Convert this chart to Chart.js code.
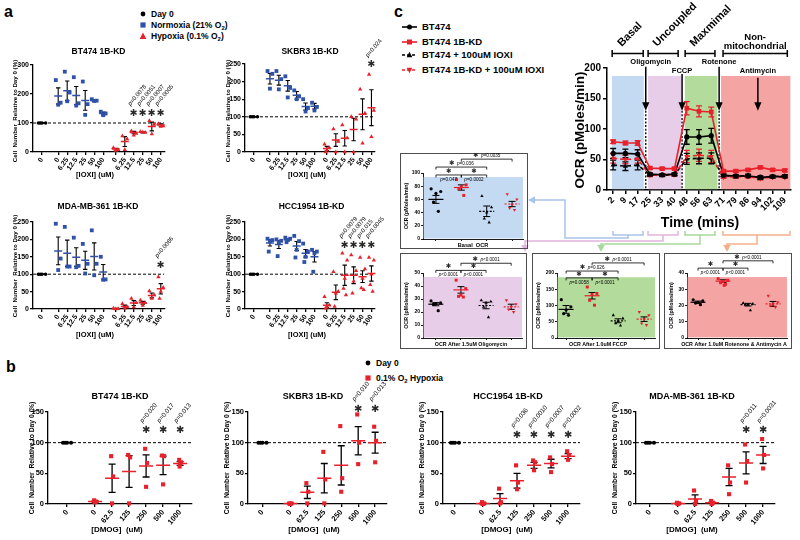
<!DOCTYPE html>
<html lang="en">
<head>
<meta charset="UTF-8">
<title>Cell number and OCR panels</title>
<script src="https://cdn.jsdelivr.net/npm/chart.js@4.4.1/dist/chart.umd.min.js"></script>
<style>
  body { margin: 0; width: 800px; height: 540px; position: relative; overflow: hidden; background: #fff;
         font-family: 'Liberation Sans', Arial, sans-serif; color: #000; }
  canvas, svg.ov, .lg, .pl, .box { position: absolute; }
  .pl { font-weight: bold; font-size: 16px; line-height: 1; }
  .lg { font-weight: bold; display: flex; align-items: center; white-space: nowrap; line-height: 10px; height: 10px; }
  .lg svg { margin-right: 3px; flex: none; }
  .lg span { white-space: pre; }
  .box { border: 1.5px solid #4d4d4d; box-sizing: border-box; }
  sub { font-size: 70%; vertical-align: -2px; line-height: 0; }
</style>
</head>
<body>
<div class="pl" style="left:4px;top:4px">a</div>
<div class="pl" style="left:6px;top:359px">b</div>
<div class="pl" style="left:394px;top:4px">c</div>

<!-- legend a -->
<div class="lg" style="left:138px;top:9px;font-size:8.5px"><svg width="10" height="10"><circle cx="5" cy="5" r="2.4" fill="#000"/></svg><span>Day 0</span></div>
<div class="lg" style="left:138px;top:20px;font-size:8.5px"><svg width="10" height="10"><rect x="2.4" y="2.4" width="5.2" height="5.2" fill="#2f52a8"/></svg><span>Normoxia (21% O<sub>2</sub>)</span></div>
<div class="lg" style="left:138px;top:31px;font-size:8.5px"><svg width="10" height="10"><polygon points="5,1.6 8.3,8 1.7,8" fill="#e8202a"/></svg><span>Hypoxia (0.1% O<sub>2</sub>)</span></div>

<!-- legend b -->
<div class="lg" style="left:363px;top:358px;font-size:8.5px"><svg width="10" height="10"><circle cx="5" cy="5" r="2.4" fill="#000"/></svg><span>Day 0</span></div>
<div class="lg" style="left:363px;top:373px;font-size:8.5px"><svg width="10" height="10"><rect x="2.4" y="2.4" width="5.2" height="5.2" fill="#e8202a"/></svg><span>0.1% O<sub>2</sub> Hypoxia</span></div>

<!-- legend c -->
<div class="lg" style="left:401px;top:22px;font-size:9.5px"><svg width="18" height="10"><line x1="1" y1="5" x2="16" y2="5" stroke="#000" stroke-width="1.6"/><circle cx="8.5" cy="5" r="2.5" fill="#000"/></svg><span>BT474</span></div>
<div class="lg" style="left:401px;top:37px;font-size:9.5px"><svg width="18" height="10"><line x1="1" y1="5" x2="16" y2="5" stroke="#e8202a" stroke-width="1.6"/><rect x="6" y="2.5" width="5" height="5" fill="#e8202a"/></svg><span>BT474 1B-KD</span></div>
<div class="lg" style="left:401px;top:50px;font-size:9.5px"><svg width="18" height="10"><line x1="1" y1="5" x2="16" y2="5" stroke="#000" stroke-width="1.6" stroke-dasharray="3 2"/><polygon points="8.5,1.8 11.3,7.2 5.7,7.2" fill="#000"/></svg><span>BT474 + 100uM IOXI</span></div>
<div class="lg" style="left:401px;top:65px;font-size:9.5px"><svg width="18" height="10"><line x1="1" y1="5" x2="16" y2="5" stroke="#e8202a" stroke-width="1.6" stroke-dasharray="3 2"/><polygon points="8.5,8.2 11.3,2.8 5.7,2.8" fill="#e8202a"/></svg><span>BT474 1B-KD + 100uM IOXI</span></div>

<!-- connectors from the OCR phases to the summary boxes -->
<svg class="ov" width="800" height="540" style="left:0;top:0">
  <g fill="none" stroke-width="1.5">
    <path stroke="#a9c3ea" d="M613 231V235H643V231M628 235V238H565V200H534"/>
    <path stroke="#e2b3de" d="M648 231V235H678V231M663 235V241H525V246"/>
    <path stroke="#a7d79b" d="M685 231V235H715V231M700 235V244H601V246"/>
    <path stroke="#f4ae8c" d="M723 231V235H790V231M757 235V244H727V246"/>
  </g>
  <polygon fill="#a9c3ea" points="528,200 535,196.3 535,203.7"/>
  <polygon fill="#e2b3de" points="525,252 521.3,245 528.7,245"/>
  <polygon fill="#a7d79b" points="601,252 597.3,245 604.7,245"/>
  <polygon fill="#f4ae8c" points="727,252 723.3,245 730.7,245"/>
</svg>

<div class="box" style="left:400px;top:153px;width:128px;height:96px"></div>
<div class="box" style="left:400px;top:253px;width:127px;height:96px"></div>
<div class="box" style="left:532px;top:253px;width:128px;height:96px"></div>
<div class="box" style="left:664px;top:253px;width:128px;height:96px"></div>

<script>
// ---------------- data : panel a (IOXI, cell number % of day 0) ----------------
const aDose = ['0', '6.25', '12.5', '25', '50', '100'];

// BT474 1B-KD
const a1Day0 = [100, 100, 100, 100];
const a1NormPts = [[248, 170, 163], [277, 205, 175], [258, 168, 160], [243, 165, 128], [182, 177, 176], [139, 133, 127]];
const a1NormMean = [193, 211, 195, 178, 178, 133];
const a1NormSem = [28, 34, 31, 34, 3, 5];
const a1HypPts = [[15, 8, 5], [55, 45, 8], [72, 64, 58], [70, 67, 68], [108, 95, 62], [97, 90, 88]];
const a1HypMean = [10, 36, 67, 68, 88, 93];
const a1HypSem = [3, 17, 4, 2, 15, 4];
const a1P = ['', '', 'p=0.0078', 'p=0.0051', 'p=0.0007', 'p=0.0005'];

// SKBR3 1B-KD
const a2Day0 = [100, 100, 100, 100];
const a2NormPts = [[230, 222, 180], [230, 207, 178], [215, 182, 155], [175, 158, 150], [150, 125, 115], [140, 128, 118]];
const a2NormMean = [208, 204, 188, 161, 129, 130];
const a2NormSem = [15, 14, 15, 11, 10, 8];
const a2HypPts = [[22, 12, 5, 0], [65, 30, 0], [77, 40, 0], [100, 93, 0], [178, 110, 25], [220, 118, 43]];
const a2HypMean = [10, 34, 39, 64, 107, 126];
const a2HypSem = [6, 18, 22, 32, 44, 51];
const a2P = ['', '', '', '', '', 'p=0.024'];

// MDA-MB-361 1B-KD
const a3Day0 = [100, 100, 100, 100];
const a3NormPts = [[245, 145, 112], [236, 122, 122], [205, 124, 120], [187, 130, 102], [226, 130, 97], [150, 85, 84]];
const a3NormMean = [167, 160, 149, 140, 151, 106];
const a3NormSem = [40, 38, 27, 26, 39, 22];
const a3HypPts = [[2, 1, 0], [15, 6, 2], [30, 18, 6], [25, 18, 10], [52, 40, 30], [92, 62, 50, 30]];
const a3HypMean = [1, 7, 17, 18, 39, 58];
const a3HypSem = [1, 4, 7, 4, 7, 15];
const a3P = ['', '', '', '', '', 'p=0.0086'];

// HCC1954 1B-KD
const a4Day0 = [100, 100, 100, 100];
const a4NormPts = [[202, 198, 195, 165], [200, 196, 190, 152], [205, 202, 198, 192], [210, 195, 170, 148], [188, 165, 150, 135], [170, 165, 160, 107]];
const a4NormMean = [190, 185, 199, 181, 160, 150];
const a4NormSem = [9, 11, 3, 13, 11, 15];
const a4HypPts = [[35, 11, 5, 2], [107, 50, 45, 7], [160, 140, 88, 59, 40], [155, 110, 80, 45], [148, 115, 88, 60, 55], [148, 140, 100, 70, 50]];
const a4HypMean = [11, 48, 97, 97, 93, 102];
const a4HypSem = [7, 21, 29, 24, 17, 22];
const a4P = ['', '', 'p=0.0079', 'p=0.0079', 'p=0.015', 'p=0.0045'];

// ---------------- data : panel b (DMOG, 0.1% O2) ----------------
const bDose = ['0', '62.5', '125', '250', '500', '1000'];
const b1Day0 = [100, 100, 100, 100];
const b1Pts = [[6, 4, 3, 3], [78, 45, 1], [80, 76, 1], [90, 67, 28], [79, 78, 32], [72, 68, 65, 61]];
const b1Mean = [4, 42, 53, 62, 63, 66];
const b1Sem = [1, 23, 26, 18, 15, 3];
const b1P = ['', '', '', 'p=0.020', 'p=0.017', 'p=0.013'];

const b2Day0 = [100, 100, 100, 100];
const b2Pts = [[1, 1, 0, 0], [34, 20, 1], [85, 40, 1], [127, 42, 20], [146, 100, 65], [126, 103, 68]];
const b2Mean = [1, 19, 42, 63, 103, 100];
const b2Sem = [0.5, 10, 24, 32, 23, 17];
const b2P = ['', '', '', '', 'p=0.010', 'p=0.013'];

const b3Day0 = [100, 100, 100, 100];
const b3Pts = [[3, 1, 0, 0], [25, 3, 1], [63, 35, 24], [71, 68, 55], [76, 65, 52], [86, 80, 72]];
const b3Mean = [1, 9, 38, 63, 66, 78];
const b3Sem = [0.7, 8, 12, 5, 7, 4];
const b3P = ['', '', 'p=0.036', 'p=0.0010', 'p=0.0007', 'p=0.0002'];

const b4Day0 = [100, 100, 100, 100];
const b4Pts = [[2, 1, 0, 0], [22, 5, 0], [5, 2, 1, 0], [63, 35, 16], [97, 70, 35], [106, 80, 58]];
const b4Mean = [1, 8, 2, 44, 67, 80];
const b4Sem = [0.5, 7, 1, 14, 18, 14];
const b4P = ['', '', '', '', 'p=0.011', 'p=0.0031'];

// ---------------- data : panel c (Seahorse OCR, pMoles/min) ----------------
const ocrTimes = [2, 9, 17, 25, 33, 40, 48, 56, 63, 71, 79, 86, 94, 102, 109];
const ocrBT     = [60, 60, 59, 26, 25, 26, 87, 87, 89, 24, 23, 23, 21, 22, 22];
const ocrBTErr  = [8, 7, 7, 2, 2, 2, 12, 12, 12, 2, 2, 2, 2, 2, 2];
const ocrKD     = [79, 77, 77, 36, 35, 35, 134, 129, 128, 31, 31, 33, 37, 33, 32];
const ocrKDErr  = [3, 3, 4, 2, 2, 2, 11, 9, 8, 2, 2, 2, 2, 2, 2];
const ocrBTI    = [41, 39, 41, 25, 24, 25, 51, 52, 52, 24, 22, 24, 19, 22, 23];
const ocrBTIErr = [8, 7, 8, 2, 2, 2, 9, 9, 9, 2, 2, 2, 2, 2, 2];
const ocrKDI    = [52, 50, 51, 24, 25, 25, 55, 57, 55, 21, 22, 22, 19, 21, 21];
const ocrKDIErr = [8, 7, 7, 2, 2, 2, 10, 10, 10, 2, 2, 2, 2, 2, 2];

// summary boxes: groups BT474, 1B-KD, +IOXI, 1B-KD+IOXI
const c1Pts = [[76, 72, 69, 56, 42], [90, 82, 79, 76, 66], [65, 48, 40, 31, 25], [68, 60, 52, 47, 44]];
const c1Mean = [60, 78, 42, 53];
const c1Sem = [6, 4, 8, 4];
const c1Br = [[0, 1, 0, 'p=0.047'], [1, 2, 0, 'p=0.0002'], [0, 2, 1, 'p=0.036'], [1, 3, 2, 'p=0.0035']];

const c2Pts = [[28.5, 27, 26.5, 25.8, 21], [44.5, 38, 33, 32, 31.5], [29, 28, 27, 24, 16], [29, 26, 24, 22, 20]];
const c2Mean = [26, 37, 25, 24];
const c2Sem = [1.2, 2.5, 2.5, 2];
const c2Br = [[0, 1, 0, 'p<0.0001'], [1, 2, 0, 'p<0.0001'], [1, 3, 1, 'p<0.0001']];

const c3Pts = [[118, 96, 86, 75, 70], [157, 137, 134, 116, 101], [70, 60, 52, 45, 38], [80, 70, 58, 45, 40]];
const c3Mean = [88, 130, 53, 58];
const c3Sem = [12, 10, 6, 7];
const c3Br = [[0, 1, 0, 'p=0.0058'], [1, 2, 0, 'p<0.0001'], [0, 2, 1, 'p=0.026'], [1, 3, 2, 'p<0.0001']];

const c4Pts = [[23.5, 22.8, 22, 21.5, 20.5], [36.5, 35.5, 34.8, 34, 33, 32.4], [21.5, 21, 20.5, 20.5, 17], [26, 22, 21, 20, 19]];
const c4Mean = [22, 35, 20.5, 21];
const c4Sem = [0.7, 0.8, 0.8, 1.5];
const c4Br = [[0, 1, 0, 'p<0.0001'], [1, 2, 0, 'p<0.0001'], [1, 3, 1, 'p<0.0001']];

// ---------------- styling / layout ----------------
const FF = "'Liberation Sans', Arial, sans-serif";
const RED = '#e8202a', BLUE = '#2f52a8';
const STAR = '#2a2a2a';
const J = [-0.8, 0.8, 0, -0.4, 0.4, 0.2];

Chart.defaults.font.family = FF;
Chart.defaults.color = '#000';
Chart.defaults.animation = false;
Chart.defaults.responsive = false;
Chart.defaults.events = [];
Chart.defaults.plugins.legend.display = false;
Chart.defaults.plugins.tooltip.enabled = false;

function place(g) {
  const c = document.createElement('canvas');
  c.width = g.w; c.height = g.h;
  c.style.left = g.x + 'px'; c.style.top = g.y + 'px';
  document.body.appendChild(c);
  return c;
}

// italic "p" followed by the rest of the string
function pText(ctx, s, x, y, size, align) {
  const fi = 'italic ' + size + 'px ' + FF, fn = size + 'px ' + FF;
  ctx.font = fi; const w1 = ctx.measureText('p').width;
  const rest = s.slice(1);
  ctx.font = fn; const w2 = ctx.measureText(rest).width;
  const sx = align === 'center' ? x - (w1 + w2) / 2 : x;
  ctx.textAlign = 'left';
  ctx.font = fi; ctx.fillText('p', sx, y);
  ctx.font = fn; ctx.fillText(rest, sx + w1, y);
  return w1 + w2;
}

// SEM error bars, drawn under the datasets
const barsPlugin = {
  id: 'bars',
  beforeDatasetsDraw(chart) {
    const { ctx, scales: { x, y } } = chart;
    chart.data.datasets.forEach(ds => {
      const b = ds.bars; if (!b) return;
      ctx.save(); ctx.strokeStyle = b.color; ctx.lineWidth = b.lw; ctx.beginPath();
      b.pos.forEach((p, i) => {
        const e = b.sem[i]; if (!e) return;
        const px = x.getPixelForValue(p), y1 = y.getPixelForValue(b.mean[i] + e), y2 = y.getPixelForValue(b.mean[i] - e);
        ctx.moveTo(px, y1); ctx.lineTo(px, y2);
        ctx.moveTo(px - b.cap, y1); ctx.lineTo(px + b.cap, y1);
        ctx.moveTo(px - b.cap, y2); ctx.lineTo(px + b.cap, y2);
      });
      ctx.stroke(); ctx.restore();
    });
  }
};

function textPlugin(items, g) {
  return { id: 'texts', afterDraw(chart) {
    const ctx = chart.ctx;
    items.forEach(it => {
      ctx.save();
      ctx.font = it.f; ctx.fillStyle = '#000';
      ctx.textAlign = it.al || 'center'; ctx.textBaseline = 'middle';
      ctx.translate(it.x - g.x, it.y - g.y);
      if (it.rot) ctx.rotate(it.rot * Math.PI / 180);
      ctx.fillText(it.t, 0, 0);
      ctx.restore();
    });
  } };
}

function bandPlugin(band) {
  return { id: 'band', beforeDatasetsDraw(chart) {
    if (!band) return;
    const { ctx, chartArea: ca, scales: { y } } = chart;
    const yt = y.getPixelForValue(band.top);
    ctx.save(); ctx.fillStyle = band.color;
    ctx.fillRect(ca.left + 0.6, yt, ca.right - ca.left - 0.6, ca.bottom - 0.6 - yt);
    ctx.restore();
  } };
}

function starPlugin(st) {
  return { id: 'stars', afterDatasetsDraw(chart) {
    if (!st) return;
    const { ctx, scales: { x, y } } = chart;
    ctx.save();
    st.p.forEach((p, i) => {
      if (!p) return;
      const px = x.getPixelForValue(st.pos[i]), py = y.getPixelForValue(st.y);
      ctx.fillStyle = STAR;
      ctx.font = st.ss + "px 'DejaVu Sans'"; ctx.textAlign = 'center'; ctx.textBaseline = 'middle';
      ctx.fillText('\u2731', px, py);
      ctx.fillStyle = '#000';
      ctx.save();
      ctx.translate(px - st.ss * 0.35, py - st.ss * 0.75);
      ctx.rotate(-st.rot * Math.PI / 180);
      ctx.textBaseline = 'alphabetic';
      pText(ctx, p, 0, 0, st.ps, 'left');
      ctx.restore();
    });
    ctx.restore();
  } };
}

function brkPlugin(br) {
  return { id: 'brk', afterDatasetsDraw(chart) {
    if (!br) return;
    const { ctx, scales: { x, y } } = chart;
    ctx.save(); ctx.strokeStyle = '#000'; ctx.fillStyle = '#000'; ctx.lineWidth = 0.8;
    br.list.forEach(([i, j, lev, p]) => {
      const x1 = x.getPixelForValue(i), x2 = x.getPixelForValue(j), yy = y.getPixelForValue(br.lv[lev]), cx = (x1 + x2) / 2;
      ctx.beginPath(); ctx.moveTo(x1, yy + 2.5); ctx.lineTo(x1, yy); ctx.lineTo(x2, yy); ctx.lineTo(x2, yy + 2.5); ctx.stroke();
      ctx.textBaseline = 'middle';
      if (lev === 0) {
        ctx.fillStyle = STAR; ctx.font = "6.5px 'DejaVu Sans'"; ctx.textAlign = 'center';
        ctx.fillText('\u2731', cx, yy - 4);
        ctx.fillStyle = '#000';
        pText(ctx, p, cx, yy + 4.5, 4.6, 'center');
      } else {
        ctx.font = '4.6px ' + FF;
        const pw = ctx.measureText(p).width, sw = 8, sx = cx - (sw + pw) / 2;
        ctx.fillStyle = STAR; ctx.font = "6.5px 'DejaVu Sans'"; ctx.textAlign = 'left';
        ctx.fillText('\u2731', sx, yy - 4);
        ctx.fillStyle = '#000';
        pText(ctx, p, sx + sw, yy - 3.2, 4.6, 'left');
      }
    });
    ctx.restore();
  } };
}

// dot plot with mean line + SEM, used for panels a, b and the summary boxes
function groupChart(g, s) {
  const cv = place(g);
  const ppu = (g.r - g.l) / (s.xMax - s.xMin);
  const datasets = [];
  s.series.forEach(se => {
    const hw = se.mw / ppu, seg = [];
    se.pos.forEach((p, i) => { seg.push({ x: p - hw, y: se.mean[i] }, { x: p + hw, y: se.mean[i] }, { x: p, y: null }); });
    datasets.push({ data: seg, showLine: true, spanGaps: false, borderColor: se.mc, borderWidth: s.mlw,
      borderDash: se.dash || [], pointRadius: 0, clip: false,
      bars: { pos: se.pos, mean: se.mean, sem: se.sem, color: '#000', cap: s.cap, lw: s.blw } });
  });
  s.series.forEach(se => {
    const pts = [];
    se.pos.forEach((p, i) => se.pts[i].forEach((v, j) => pts.push({ x: p + J[j % J.length] * se.jit / ppu, y: v })));
    datasets.push({ data: pts, showLine: false, pointStyle: se.shape, pointRadius: se.r, pointRotation: se.rot || 0,
      pointBackgroundColor: se.color, pointBorderColor: se.color, pointBorderWidth: 0, clip: false });
  });
  if (s.ref != null) {
    datasets.push({ data: [{ x: s.xMin, y: s.ref }, { x: s.xMax, y: s.ref }], showLine: true, borderColor: '#000',
      borderWidth: 1, borderDash: [3, 2], pointRadius: 0 });
  }
  const tf = { size: s.tf, weight: 'bold' };
  const grid = { drawOnChartArea: false, color: '#000', lineWidth: s.lw, tickLength: s.tl };
  const border = { color: '#000', width: s.lw };
  new Chart(cv, {
    type: 'scatter',
    data: { datasets },
    options: {
      layout: { padding: { left: 0, right: g.x + g.w - g.r, top: g.t - g.y, bottom: 0 } },
      scales: {
        x: { type: 'linear', min: s.xMin, max: s.xMax,
          afterBuildTicks: a => { a.ticks = s.xt.map(v => ({ value: v })); },
          afterFit: a => { a.height = g.y + g.h - g.b; a.paddingLeft = 0; a.paddingRight = 0; },
          ticks: { display: !!s.xl, autoSkip: false, minRotation: s.rot, maxRotation: s.rot, padding: 1, font: tf,
            callback: (v, i) => (s.xl ? s.xl[i] : '') },
          grid, border },
        y: { min: 0, max: s.yMax,
          afterFit: a => { a.width = g.l - g.x; a.paddingTop = 0; a.paddingBottom = 0; },
          ticks: { stepSize: s.yStep, padding: 1, font: tf },
          grid, border }
      }
    },
    plugins: [bandPlugin(s.band), barsPlugin, starPlugin(s.stars), brkPlugin(s.brk), textPlugin(s.items, g)]
  });
}

// ---------------- panel a ----------------
const aNormX = aDose.map((d, i) => 1.8 + i);
const aHypX = aDose.map((d, i) => 8.2 + i);
const aStyle = { xMin: -1, xMax: 13.6, xt: [0, ...aNormX, ...aHypX], xl: ['0', ...aDose, ...aDose], ref: 100,
  tf: 7, rot: 55, lw: 1.3, tl: 3, mlw: 1.5, blw: 1.1, cap: 2.2 };
function aSeries(day, nP, nM, nS, hP, hM, hS) {
  return [
    { pos: [0], pts: [day], mean: [100], sem: [0], color: '#000', shape: 'circle', r: 1.8, mc: '#000', mw: 5, jit: 4.5 },
    { pos: aNormX, pts: nP, mean: nM, sem: nS, color: BLUE, shape: 'rect', r: 2.7, mc: BLUE, mw: 4, jit: 3 },
    { pos: aHypX, pts: hP, mean: hM, sem: hS, color: RED, shape: 'triangle', r: 2.5, mc: RED, mw: 4, jit: 3 }
  ];
}
const aYT = 'Cell  Number  Relative to Day 0 (%)';
const fT = s => 'bold ' + s + 'px ' + FF;
const aST = (p, y) => ({ pos: aHypX, p, y, ss: 9.5, ps: 6, rot: 50 });

groupChart({ x: 0, y: 40, w: 200, h: 142, l: 33, r: 164.4, t: 65, b: 152 }, Object.assign({}, aStyle, {
  yMax: 300, yStep: 100,
  series: aSeries(a1Day0, a1NormPts, a1NormMean, a1NormSem, a1HypPts, a1HypMean, a1HypSem),
  stars: aST(a1P, 134),
  items: [{ t: 'BT474 1B-KD', x: 98.5, y: 52, f: fT(8.5) }, { t: '[IOXI] (uM)', x: 95, y: 175, f: fT(7.5) },
          { t: aYT, x: 15, y: 111, rot: -90, f: fT(6.2) }] }));

groupChart({ x: 220, y: 0, w: 180, h: 182, l: 245, r: 375, t: 64, b: 152 }, Object.assign({}, aStyle, {
  yMax: 250, yStep: 50,
  series: aSeries(a2Day0, a2NormPts, a2NormMean, a2NormSem, a2HypPts, a2HypMean, a2HypSem),
  stars: aST(a2P, 248),
  items: [{ t: 'SKBR3 1B-KD', x: 310, y: 52, f: fT(8.5) }, { t: '[IOXI] (uM)', x: 307, y: 175, f: fT(7.5) },
          { t: aYT, x: 228, y: 111, rot: -90, f: fT(6.2) }] }));

groupChart({ x: 0, y: 180, w: 200, h: 162, l: 33, r: 164.4, t: 222, b: 309 }, Object.assign({}, aStyle, {
  yMax: 250, yStep: 50,
  series: aSeries(a3Day0, a3NormPts, a3NormMean, a3NormSem, a3HypPts, a3HypMean, a3HypSem),
  stars: aST(a3P, 126),
  items: [{ t: 'MDA-MB-361 1B-KD', x: 98, y: 207, f: fT(8.5) }, { t: '[IOXI] (uM)', x: 95, y: 335, f: fT(7.5) },
          { t: aYT, x: 15, y: 266, rot: -90, f: fT(6.2) }] }));

groupChart({ x: 220, y: 180, w: 180, h: 162, l: 245, r: 375, t: 222, b: 309 }, Object.assign({}, aStyle, {
  yMax: 250, yStep: 50,
  series: aSeries(a4Day0, a4NormPts, a4NormMean, a4NormSem, a4HypPts, a4HypMean, a4HypSem),
  stars: aST(a4P, 183),
  items: [{ t: 'HCC1954 1B-KD', x: 311.5, y: 207, f: fT(8.5) }, { t: '[IOXI] (uM)', x: 307, y: 335, f: fT(7.5) },
          { t: aYT, x: 228, y: 266, rot: -90, f: fT(6.2) }] }));

// ---------------- panel b ----------------
const bX = bDose.map((d, i) => 1.65 + i);
const bStyle = { xMax: 7.35, xt: [0, ...bX], xl: ['0', ...bDose], ref: 100, yMax: 150, yStep: 50,
  tf: 7.5, rot: 50, lw: 1.3, tl: 3, mlw: 1.5, blw: 1.3, cap: 3.5 };
function bSeries(day, pts, mean, sem) {
  return [
    { pos: [0], pts: [day], mean: [100], sem: [0], color: '#000', shape: 'circle', r: 2, mc: '#000', mw: 6, jit: 5 },
    { pos: bX, pts, mean, sem, color: RED, shape: 'rect', r: 2.9, mc: RED, mw: 7, jit: 1.2 }
  ];
}
const bST = (p, y) => ({ pos: bX, p, y, ss: 10, ps: 6.3, rot: 50 });

groupChart({ x: 20, y: 370, w: 180, h: 170, l: 48, r: 192, t: 412, b: 504 }, Object.assign({}, bStyle, {
  xMin: -1.12, series: bSeries(b1Day0, b1Pts, b1Mean, b1Sem), stars: bST(b1P, 120),
  items: [{ t: 'BT474 1B-KD', x: 120, y: 397, f: fT(9) }, { t: '[DMOG]  (uM)', x: 117, y: 530, f: fT(8) },
          { t: aYT, x: 32, y: 458, rot: -90, f: fT(6.8) }] }));

groupChart({ x: 215, y: 370, w: 185, h: 170, l: 248, r: 387, t: 412, b: 504 }, Object.assign({}, bStyle, {
  xMin: -0.85, series: bSeries(b2Day0, b2Pts, b2Mean, b2Sem), stars: bST(b2P, 155),
  items: [{ t: 'SKBR3 1B-KD', x: 313, y: 397, f: fT(9) }, { t: '[DMOG]  (uM)', x: 314, y: 530, f: fT(8) },
          { t: aYT, x: 227, y: 458, rot: -90, f: fT(6.8) }] }));

groupChart({ x: 410, y: 370, w: 190, h: 170, l: 443, r: 580, t: 412, b: 504 }, Object.assign({}, bStyle, {
  xMin: -0.7, series: bSeries(b3Day0, b3Pts, b3Mean, b3Sem), stars: bST(b3P, 112),
  items: [{ t: 'HCC1954 1B-KD', x: 508, y: 397, f: fT(9) }, { t: '[DMOG]  (uM)', x: 507, y: 530, f: fT(8) },
          { t: aYT, x: 422, y: 458, rot: -90, f: fT(6.8) }] }));

groupChart({ x: 600, y: 370, w: 200, h: 170, l: 636, r: 775, t: 412, b: 504 }, Object.assign({}, bStyle, {
  xMin: -0.82, series: bSeries(b4Day0, b4Pts, b4Mean, b4Sem), stars: bST(b4P, 120),
  items: [{ t: 'MDA-MB-361 1B-KD', x: 692, y: 397, f: fT(9) }, { t: '[DMOG]  (uM)', x: 692, y: 530, f: fT(8) },
          { t: aYT, x: 615, y: 458, rot: -90, f: fT(6.8) }] }));

// ---------------- panel c : summary boxes ----------------
function boxSeries(pts, mean, sem) {
  const st = [
    { color: '#000', shape: 'circle', r: 1.6, mc: '#000' },
    { color: RED, shape: 'rect', r: 2.1, mc: RED },
    { color: '#000', shape: 'triangle', r: 1.9, mc: '#000', dash: [2, 1.5] },
    { color: RED, shape: 'triangle', r: 1.9, rot: 180, mc: RED, dash: [2, 1.5] }
  ];
  return st.map((o, i) => Object.assign({ pos: [i], pts: [pts[i]], mean: [mean[i]], sem: [sem[i]], mw: 7.5, jit: 6 }, o));
}
const boxStyle = { xt: [0, 1, 2, 3], xl: null, ref: null, tf: 5, rot: 0, lw: 0.9, tl: 2, mlw: 1.2, blw: 1, cap: 3.5 };
const yOCR = 'OCR (pMoles/min)';

groupChart({ x: 400, y: 153, w: 128, h: 96, l: 423, r: 523, t: 173, b: 239 }, Object.assign({}, boxStyle, {
  xMin: -0.51, xMax: 3.43, yMax: 100, yStep: 20, series: boxSeries(c1Pts, c1Mean, c1Sem),
  band: { color: '#c4d9f2', top: 94 }, brk: { list: c1Br, lv: [97, 109, 121] },
  items: [{ t: 'Basal  OCR', x: 473, y: 245, f: fT(5.6) }, { t: yOCR, x: 407, y: 206, rot: -90, f: fT(5.4) }] }));

groupChart({ x: 400, y: 253, w: 127, h: 96, l: 423, r: 522, t: 273, b: 338 }, Object.assign({}, boxStyle, {
  xMin: -0.51, xMax: 3.43, yMax: 50, yStep: 10, series: boxSeries(c2Pts, c2Mean, c2Sem),
  band: { color: '#e7cde7', top: 47 }, brk: { list: c2Br, lv: [52, 57.5] },
  items: [{ t: 'OCR After 1.5uM Oligomycin', x: 471, y: 345, f: fT(5.3) }, { t: yOCR, x: 407, y: 305.5, rot: -90, f: fT(5.4) }] }));

groupChart({ x: 532, y: 253, w: 128, h: 96, l: 557, r: 655, t: 273, b: 338 }, Object.assign({}, boxStyle, {
  xMin: -0.35, xMax: 3.42, yMax: 200, yStep: 50, series: boxSeries(c3Pts, c3Mean, c3Sem),
  band: { color: '#b3dc9c', top: 187 }, brk: { list: c3Br, lv: [185, 206, 231] },
  items: [{ t: 'OCR After 1.0uM FCCP', x: 598, y: 345, f: fT(5.3) }, { t: yOCR, x: 539, y: 305.5, rot: -90, f: fT(5.4) }] }));

groupChart({ x: 664, y: 253, w: 128, h: 96, l: 687, r: 787, t: 273, b: 338 }, Object.assign({}, boxStyle, {
  xMin: -0.44, xMax: 3.56, yMax: 40, yStep: 10, series: boxSeries(c4Pts, c4Mean, c4Sem),
  band: { color: '#f5a4a4', top: 37.5 }, brk: { list: c4Br, lv: [43, 47.5] },
  items: [{ t: 'OCR After 1.0uM Rotenone & Antimycin A', x: 734, y: 345, f: fT(5.3) }, { t: yOCR, x: 671.5, y: 305.5, rot: -90, f: fT(5.4) }] }));

// ---------------- panel c : OCR time course ----------------
const ocrPhases = [
  { from: -0.1, to: 2.5, color: '#c4d9f2', br: [-0.08, 2.45], name: 'Basal' },
  { from: 2.85, to: 5.55, color: '#e7cde7', br: [2.85, 5.3], name: 'Uncoupled' },
  { from: 5.85, to: 8.5, color: '#b3dc9c', br: [5.87, 8.3], name: 'Maxmimal' },
  { from: 8.8, to: 14.45, color: '#f5a4a4', br: [8.96, 14.2], name: ['Non-', 'mitochondrial'] }
];
const ocrInj = [
  { x: 2.66, name: 'Oligomycin', ly: 62, dx: 5, top: 202, dotted: true },
  { x: 5.62, name: 'FCCP', ly: 71, dx: 0, top: 190, dotted: true },
  { x: 8.64, name: 'Rotenone', ly: 62, dx: 0, top: 202, dotted: true },
  { x: 11.8, name: 'Antimycin', ly: 71, dx: 0, top: 184, dotted: false }
];
const ocrDeco = {
  id: 'deco',
  beforeDatasetsDraw(chart) {
    const { ctx, scales: { x, y } } = chart;
    ctx.save();
    ocrPhases.forEach(ph => {
      const x1 = x.getPixelForValue(ph.from), x2 = x.getPixelForValue(ph.to), yt = y.getPixelForValue(187), yb = y.getPixelForValue(0) - 0.8;
      ctx.fillStyle = ph.color; ctx.fillRect(x1, yt, x2 - x1, yb - yt);
    });
    ctx.setLineDash([2, 1.6]); ctx.strokeStyle = '#000'; ctx.lineWidth = 1.3;
    ocrInj.forEach(a => {
      if (!a.dotted) return;
      const px = x.getPixelForValue(a.x);
      ctx.beginPath(); ctx.moveTo(px, y.getPixelForValue(130)); ctx.lineTo(px, y.getPixelForValue(0)); ctx.stroke();
    });
    ctx.restore();
  },
  afterDraw(chart) {
    const { ctx, scales: { x, y } } = chart;
    ctx.save(); ctx.strokeStyle = '#000'; ctx.fillStyle = '#000'; ctx.lineWidth = 1.5;
    ocrInj.forEach(a => {
      const px = x.getPixelForValue(a.x), y1 = y.getPixelForValue(a.top), y2 = y.getPixelForValue(130);
      ctx.beginPath(); ctx.moveTo(px, y1); ctx.lineTo(px, y2 - 6); ctx.stroke();
      ctx.beginPath(); ctx.moveTo(px, y2); ctx.lineTo(px - 3.6, y2 - 8.5); ctx.lineTo(px + 3.6, y2 - 8.5); ctx.closePath(); ctx.fill();
      ctx.font = 'bold 7.5px ' + FF; ctx.textAlign = 'center'; ctx.textBaseline = 'middle';
      ctx.fillText(a.name, px + a.dx, a.ly);
    });
    ocrPhases.forEach(ph => {
      const x1 = x.getPixelForValue(ph.br[0]), x2 = x.getPixelForValue(ph.br[1]), cx = (x1 + x2) / 2;
      ctx.beginPath();
      ctx.moveTo(x1, 50); ctx.lineTo(x1, 57); ctx.moveTo(x1, 53.5); ctx.lineTo(x2, 53.5); ctx.moveTo(x2, 50); ctx.lineTo(x2, 57);
      ctx.stroke();
      if (Array.isArray(ph.name)) {
        ctx.font = 'bold 9.5px ' + FF; ctx.textAlign = 'center'; ctx.textBaseline = 'middle';
        ctx.fillText(ph.name[0], cx, 37); ctx.fillText(ph.name[1], cx, 46.5);
      } else {
        ctx.save(); ctx.translate(cx - 6, 47); ctx.rotate(-Math.PI / 4);
        ctx.font = 'bold 11px ' + FF; ctx.textAlign = 'left'; ctx.textBaseline = 'alphabetic';
        ctx.fillText(ph.name, 0, 0); ctx.restore();
      }
    });
    ctx.restore();
  }
};
function ocrSet(v, e, color, shape, r, dash, rot) {
  return { data: v.map((val, i) => ({ x: i, y: val })), showLine: true, borderColor: color, borderWidth: 1.6, borderDash: dash,
    pointStyle: shape, pointRadius: r, pointRotation: rot || 0, pointBackgroundColor: color, pointBorderColor: color,
    pointBorderWidth: 0, clip: false, bars: { pos: v.map((val, i) => i), mean: v, sem: e, color, cap: 3, lw: 1.3 } };
}
const gOcr = { x: 570, y: 0, w: 230, h: 237, l: 607, r: 791, t: 68, b: 190 };
new Chart(place(gOcr), {
  type: 'scatter',
  data: { datasets: [
    ocrSet(ocrKD, ocrKDErr, RED, 'rect', 3.3, []),
    ocrSet(ocrBT, ocrBTErr, '#000', 'circle', 2.6, []),
    ocrSet(ocrKDI, ocrKDIErr, RED, 'triangle', 3, [4, 3], 180),
    ocrSet(ocrBTI, ocrBTIErr, '#000', 'triangle', 3, [4, 3])
  ] },
  options: {
    layout: { padding: { left: 0, right: gOcr.x + gOcr.w - gOcr.r, top: gOcr.t, bottom: 0 } },
    scales: {
      x: { type: 'linear', min: -0.5, max: 14.5,
        afterBuildTicks: a => { a.ticks = ocrTimes.map((t, i) => ({ value: i })); },
        afterFit: a => { a.height = gOcr.y + gOcr.h - gOcr.b; a.paddingLeft = 0; a.paddingRight = 0; },
        ticks: { autoSkip: false, minRotation: 45, maxRotation: 45, padding: 1, font: { size: 9, weight: 'bold' },
          callback: (v, i) => String(ocrTimes[i]) },
        grid: { drawOnChartArea: false, color: '#000', lineWidth: 1.5, tickLength: 4 },
        border: { color: '#000', width: 1.5 } },
      y: { min: 0, max: 200,
        afterFit: a => { a.width = gOcr.l - gOcr.x; a.paddingTop = 0; a.paddingBottom = 0; },
        ticks: { stepSize: 50, padding: 2, font: { size: 10, weight: 'bold' } },
        grid: { drawOnChartArea: false, color: '#000', lineWidth: 1.5, tickLength: 4 },
        border: { color: '#000', width: 1.5 } }
    }
  },
  plugins: [ocrDeco, barsPlugin, textPlugin([
    { t: 'OCR (pMoles/min)', x: 580, y: 130, rot: -90, f: fT(13.5) },
    { t: 'Time (mins)', x: 700, y: 223, f: fT(14) }
  ], gOcr)]
});
</script>
</body>
</html>
